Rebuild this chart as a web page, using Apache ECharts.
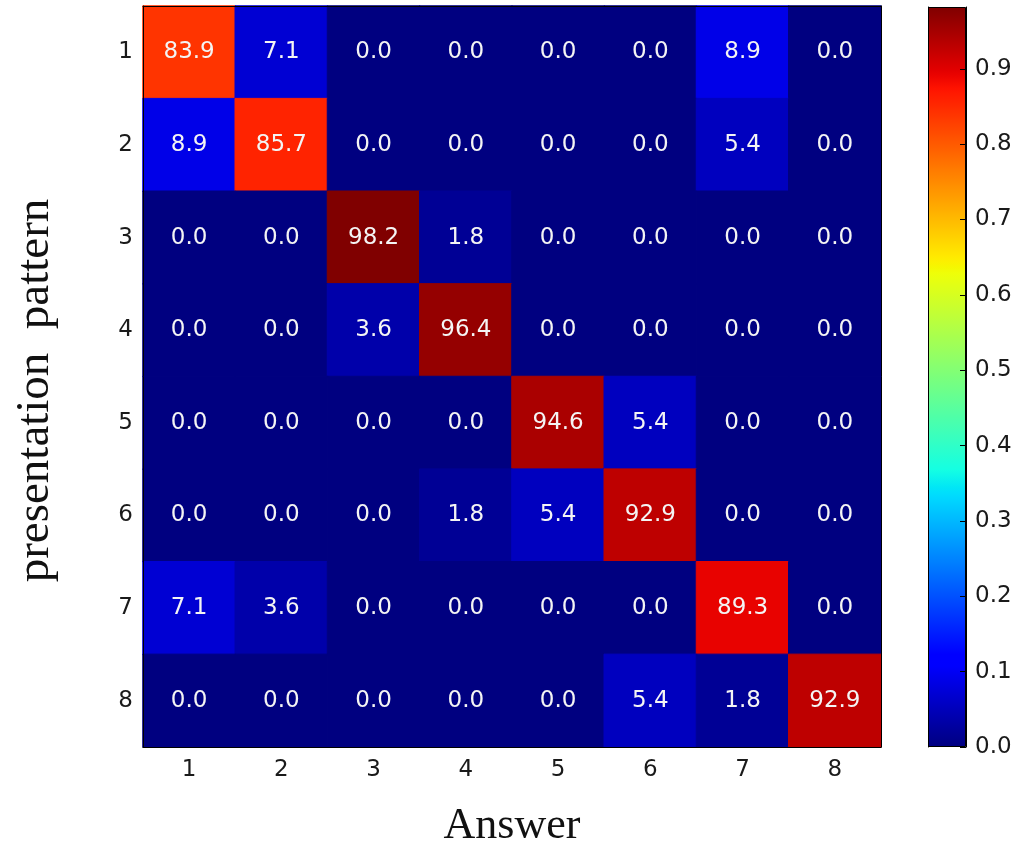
<!DOCTYPE html>
<html>
<head>
<meta charset="utf-8">
<script src="https://cdn.jsdelivr.net/npm/echarts@6/dist/echarts.min.js"></script>
<style>html,body{margin:0;padding:0;background:#fff}#c{width:1021px;height:848px}</style>
</head>
<body>
<div id="c"></div>
<script>
// ---- data (percent) ----
const answers = ['1','2','3','4','5','6','7','8'];
const patterns = ['1','2','3','4','5','6','7','8'];
const row1 = [83.9, 7.1, 0.0, 0.0, 0.0, 0.0, 8.9, 0.0];
const row2 = [8.9, 85.7, 0.0, 0.0, 0.0, 0.0, 5.4, 0.0];
const row3 = [0.0, 0.0, 98.2, 1.8, 0.0, 0.0, 0.0, 0.0];
const row4 = [0.0, 0.0, 3.6, 96.4, 0.0, 0.0, 0.0, 0.0];
const row5 = [0.0, 0.0, 0.0, 0.0, 94.6, 5.4, 0.0, 0.0];
const row6 = [0.0, 0.0, 0.0, 1.8, 5.4, 92.9, 0.0, 0.0];
const row7 = [7.1, 3.6, 0.0, 0.0, 0.0, 0.0, 89.3, 0.0];
const row8 = [0.0, 0.0, 0.0, 0.0, 0.0, 5.4, 1.8, 92.9];
const colorbarTicks = ['0.0','0.1','0.2','0.3','0.4','0.5','0.6','0.7','0.8','0.9'];
const colorMax = 98.2;

// jet colormap (matplotlib segment data)
const jetR=[[0,0],[0.35,0],[0.66,1],[0.89,1],[1,0.5]];
const jetG=[[0,0],[0.125,0],[0.375,1],[0.64,1],[0.91,0],[1,0]];
const jetB=[[0,0.5],[0.11,1],[0.34,1],[0.65,0],[1,0]];
function seg(s, t){
  for (let i=1;i<s.length;i++){
    if (t<=s[i][0]){const a=s[i-1],b=s[i];return a[1]+(b[1]-a[1])*(t-a[0])/(b[0]-a[0]);}
  }
  return s[s.length-1][1];
}
function jet(t){
  t=Math.max(0,Math.min(1,t));
  const h=x=>Math.round(x*255).toString(16).padStart(2,'0');
  return '#'+h(seg(jetR,t))+h(seg(jetG,t))+h(seg(jetB,t));
}
const N=128;
const jetColors=[]; const jetStops=[];
for(let i=0;i<=N;i++){const t=i/N;jetColors.push(jet(t));jetStops.push({offset:1-t,color:jet(t)});}

const rows = [row1,row2,row3,row4,row5,row6,row7,row8];
const cells = [];
rows.forEach((r, yi) => r.forEach((v, xi) => cells.push({
  value:[xi, yi, v],
  itemStyle:{borderColor:jet(v/colorMax), borderWidth:1}
})));

const tickFont = {fontFamily:'DejaVu Sans', fontSize:23, color:'#1a1a1a'};
const tickStyle = {inside:true, alignWithLabel:true, length:6, lineStyle:{color:'#000', width:1}};
const chart = echarts.init(document.getElementById('c'), null, {renderer:'canvas'});
chart.setOption({
  animation:false,
  backgroundColor:'#fff',
  grid:[
    {left:143, top:6, width:738, height:741, containLabel:false, outerBoundsMode:'none'},
    {left:928, top:7, width:38, height:740, containLabel:false, outerBoundsMode:'none'}
  ],
  xAxis:[
    {type:'category', gridIndex:0, data:answers, position:'bottom', z:10,
     name:'Answer', nameLocation:'middle', nameGap:57,
     nameTextStyle:{fontFamily:'Liberation Serif', fontSize:44, color:'#111'},
     axisLine:{lineStyle:{color:'#000', width:1}},
     axisTick:tickStyle,
     axisLabel:{...tickFont, margin:12}, splitLine:{show:false}},
    {type:'category', gridIndex:0, data:answers, position:'top', z:10,
     axisLine:{lineStyle:{color:'#000', width:1}},
     axisTick:tickStyle,
     axisLabel:{show:false}},
    {type:'category', gridIndex:1, data:['c'], show:false}
  ],
  yAxis:[
    {type:'category', gridIndex:0, data:patterns, inverse:true, position:'left', z:10,
     name:'presentation  pattern', nameLocation:'middle', nameGap:84,
     nameTextStyle:{fontFamily:'Liberation Serif', fontSize:47, color:'#111', padding:[0,28,0,0]},
     axisLine:{lineStyle:{color:'#000', width:1}},
     axisTick:tickStyle,
     axisLabel:{...tickFont, margin:10}},
    {type:'category', gridIndex:0, data:patterns, inverse:true, position:'right', z:10,
     axisLine:{lineStyle:{color:'#000', width:1}},
     axisTick:tickStyle,
     axisLabel:{show:false}},
    {type:'value', gridIndex:1, min:0, max:colorMax, interval:10, position:'right', z:10,
     axisLine:{show:true, lineStyle:{color:'#000'}},
     axisTick:{show:true, inside:true, length:6, lineStyle:{color:'#000'}},
     splitLine:{show:false},
     axisLabel:{...tickFont, margin:9, showMaxLabel:false,
       formatter:(v)=>colorbarTicks[Math.round(v/10)] || ''}},
    {type:'value', gridIndex:1, min:0, max:colorMax, interval:10, position:'left', z:10,
     axisLine:{show:true, lineStyle:{color:'#000'}},
     axisTick:{show:false}, axisLabel:{show:false}, splitLine:{show:false}}
  ],
  visualMap:{show:false, type:'continuous', min:0, max:colorMax, seriesIndex:0,
    inRange:{color:jetColors}},
  series:[
    {type:'heatmap', xAxisIndex:0, yAxisIndex:0, data:cells,
     label:{show:true, color:'#f4f4f4', fontFamily:'DejaVu Sans', fontSize:23,
       formatter:(p)=>p.value[2].toFixed(1)},
     z:1},
    {type:'bar', xAxisIndex:2, yAxisIndex:2, data:[colorMax], barWidth:'100%',
     itemStyle:{color:new echarts.graphic.LinearGradient(0,0,0,1,jetStops), borderColor:'#000', borderWidth:1},
     silent:true, z:1}
  ]
});
</script>
</body>
</html>
